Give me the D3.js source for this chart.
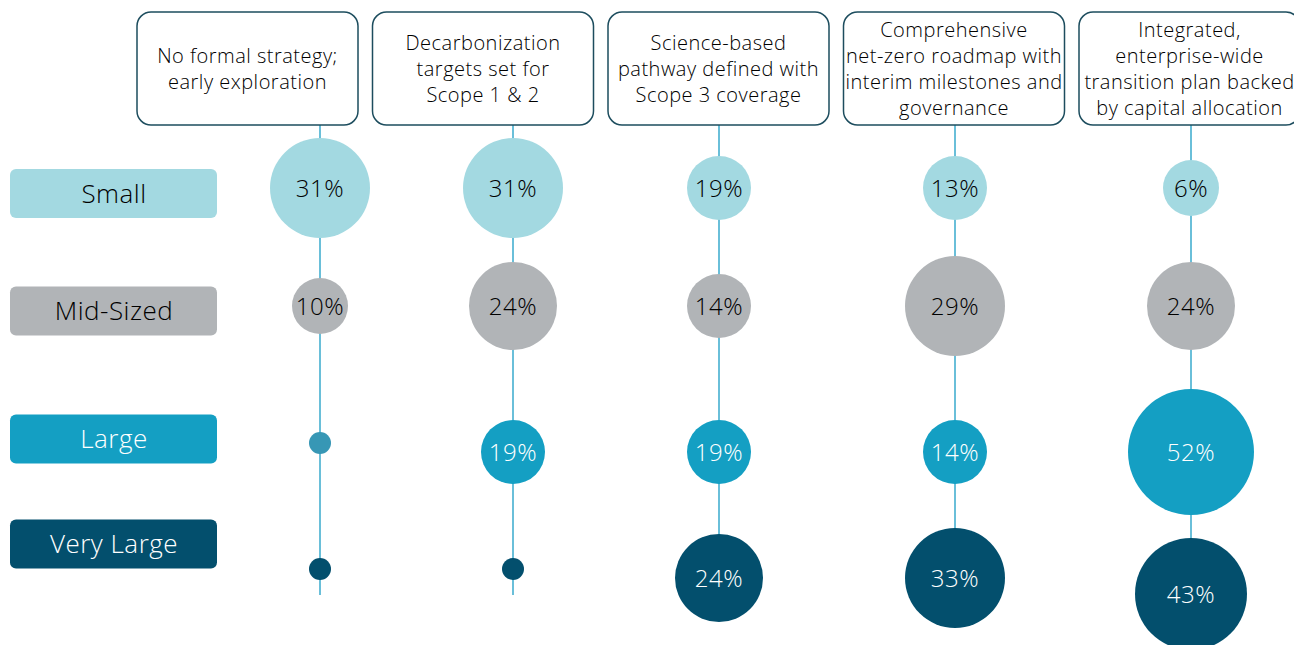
<!DOCTYPE html>
<html>
<head>
<meta charset="utf-8">
<script src="https://cdn.jsdelivr.net/npm/d3@7"></script>
<style>
  html, body { margin: 0; padding: 0; background: #fff; }
  svg { display: block; font-family: "Open Sans", Lato, sans-serif; font-weight: 300; }
</style>
</head>
<body>
<svg id="chart" width="1294" height="645"></svg>
<script>
// ---- data ----
const stages = ["No formal strategy", "Decarbonization targets", "Science-based pathway", "Net-zero roadmap", "Integrated transition plan"];
const stageLines = [
  ["No formal strategy;", "early exploration"],
  ["Decarbonization", "targets set for", "Scope 1 & 2"],
  ["Science-based", "pathway defined with", "Scope 3 coverage"],
  ["Comprehensive", "net-zero roadmap with", "interim milestones and", "governance"],
  ["Integrated,", "enterprise-wide", "transition plan backed", "by capital allocation"]
];
const sizes = ["Small", "Mid-Sized", "Large", "Very Large"];
const small     = [31, 31, 19, 13, 6];
const midSized  = [10, 24, 14, 29, 24];
const large     = [0, 19, 19, 14, 52];
const veryLarge = [0, 0, 24, 33, 43];
const seriesValues = [small, midSized, large, veryLarge];

// ---- scales ----
const svg = d3.select("#chart");

const boxX = d3.scalePoint().domain(stages).range([247.5, 1189.5]);
const colX = d3.scaleOrdinal().domain(stages).range([320, 513, 719, 955, 1191]);
const rowY = d3.scaleOrdinal().domain(sizes).range([188, 306, 452, 578]);
const labelY = d3.scaleOrdinal().domain(sizes).range([193.5, 311, 439, 544]);
const radius = d3.scaleThreshold().domain([5, 12, 22, 27, 40, 50]).range([11, 28, 32, 44, 50, 56, 63]);
const fill = d3.scaleOrdinal().domain(sizes).range(["#a3d9e1", "#b1b4b7", "#149fc3", "#034f6d"]);
const dotFill = d3.scaleOrdinal().domain(sizes).range(["#a3d9e1", "#b1b4b7", "#3797b5", "#034f6d"]);
const textFill = d3.scaleOrdinal().domain(sizes).range(["#000", "#000", "#fff", "#fff"]);

const boxW = 221, boxTop = 12, boxH = 113;
const zeroDotShift = -9;

// ---- layout bubbles with simple vertical collision avoidance ----
const minGap = 23;
const bubbles = [];
stages.forEach((s, ci) => {
  let prevBottom = -Infinity;
  sizes.forEach((sz, ri) => {
    const v = seriesValues[ri][ci];
    const r = radius(v);
    let y = rowY(sz) + (v === 0 ? zeroDotShift : 0);
    if (y - r < prevBottom + minGap) y = prevBottom + minGap + r;
    prevBottom = y + r;
    bubbles.push({ stage: s, size: sz, value: v, r, x: colX(s), y });
  });
});

// ---- connector lines ----
svg.append("g").selectAll("line").data(stages).join("line")
  .attr("x1", d => colX(d)).attr("x2", d => colX(d))
  .attr("y1", boxTop + boxH).attr("y2", 595)
  .attr("stroke", "#45afd0").attr("stroke-width", 1.6);

// ---- header boxes ----
const hdr = svg.append("g").selectAll("g").data(stages).join("g");
hdr.append("rect")
  .attr("x", d => boxX(d) - boxW / 2).attr("y", boxTop)
  .attr("width", boxW).attr("height", boxH)
  .attr("rx", 14).attr("ry", 14)
  .attr("fill", "#fff").attr("stroke", "#1d4d5e").attr("stroke-width", 1.5);
hdr.each(function (d, i) {
  const lines = stageLines[i];
  const cy = boxTop + boxH / 2;
  const lh = 26;
  d3.select(this).selectAll("text").data(lines).join("text")
    .attr("x", boxX(d))
    .attr("y", (l, j) => cy - (lines.length - 1) * lh / 2 + j * lh)
    .attr("dy", "0.36em")
    .attr("text-anchor", "middle")
    .attr("font-size", 20)
    .attr("letter-spacing", 0.5)
    .attr("fill", "#000")
    .text(l => l);
});

// ---- row labels ----
const rl = svg.append("g").selectAll("g").data(sizes).join("g");
rl.append("rect")
  .attr("x", 10).attr("y", d => labelY(d) - 24.5)
  .attr("width", 207).attr("height", 49)
  .attr("rx", 6).attr("ry", 6)
  .attr("fill", d => fill(d));
rl.append("text")
  .attr("x", 114).attr("y", d => labelY(d))
  .attr("dy", "0.36em")
  .attr("text-anchor", "middle")
  .attr("font-size", 26)
  .attr("letter-spacing", 0.5)
  .attr("fill", d => textFill(d))
  .text(d => d);

// ---- bubbles ----
const bg = svg.append("g").selectAll("g").data(bubbles).join("g");
bg.append("circle")
  .attr("cx", d => d.x).attr("cy", d => d.y).attr("r", d => d.r)
  .attr("fill", d => d.value === 0 ? dotFill(d.size) : fill(d.size));
bg.filter(d => d.value > 0).append("text")
  .attr("x", d => d.x).attr("y", d => d.y)
  .attr("dy", "0.36em")
  .attr("text-anchor", "middle")
  .attr("font-size", 24)
  .attr("letter-spacing", 0.5)
  .attr("fill", d => textFill(d.size))
  .text(d => d.value + "%");
</script>
</body>
</html>
